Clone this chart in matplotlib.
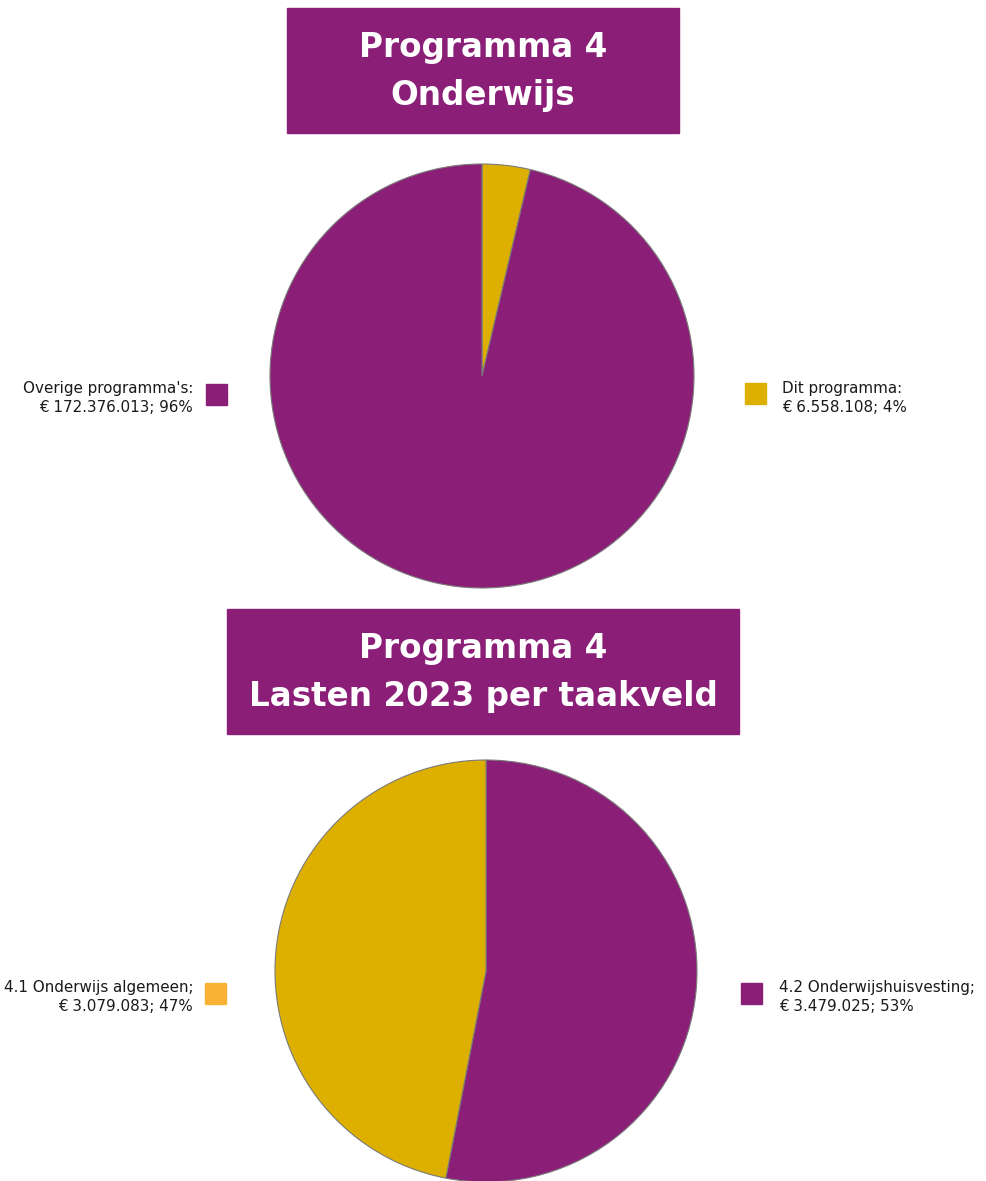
import matplotlib.pyplot as plt
from matplotlib.patches import Rectangle

# ============================================
# DATA
# ============================================
TITLE_TOP = "Programma 4\nOnderwijs"
LABELS_TOP = ["Dit programma", "Overige programma's"]
VALUES_TOP = [6558108, 172376013]
PCT_TOP = [4, 96]

TITLE_BOTTOM = "Programma 4\nLasten 2023 per taakveld"
LABELS_BOTTOM = ["4.2 Onderwijshuisvesting", "4.1 Onderwijs algemeen"]
VALUES_BOTTOM = [3479025, 3079083]
PCT_BOTTOM = [53, 47]

PURPLE = "#8B1F77"
GOLD = "#DDB000"
ORANGE = "#F9B233"

W, H = 986, 1181


def fx(px):
    return px / W


def fy(py):
    return 1 - py / H


def euro(v):
    return "€ " + f"{v:,}".replace(",", ".")


def title_box(fig, x0, x1, y0, y1, text):
    fig.patches.append(Rectangle((fx(x0), fy(y1)), fx(x1 - x0), (y1 - y0) / H,
                                 transform=fig.transFigure, color=PURPLE, zorder=0))
    fig.text(fx((x0 + x1) / 2), fy((y0 + y1) / 2 + 1), text, ha="center", va="center",
             color="white", fontsize=23.5, fontweight="bold", family="DejaVu Sans",
             linespacing=1.6)


def pie_axes(fig, cx, cy, r, values, colors):
    ax = fig.add_axes([fx(cx - r), fy(cy + r), 2 * r / W, 2 * r / H])
    ax.pie(values, colors=colors, startangle=90, counterclock=False, radius=1,
           wedgeprops=dict(edgecolor="#7a7a7a", linewidth=0.8))
    ax.set_xlim(-1, 1)
    ax.set_ylim(-1, 1)
    ax.set_aspect("auto")
    ax.axis("off")
    return ax


def legend_item(fig, sq_x, sq_y, color, text, text_x, text_y, ha):
    fig.patches.append(Rectangle((fx(sq_x), fy(sq_y + 21)), 21 / W, 21 / H,
                                 transform=fig.transFigure, color=color))
    fig.text(fx(text_x), fy(text_y), text, ha=ha, va="center", fontsize=10.9,
             family="DejaVu Sans", color="#1a1a1a", multialignment=ha,
             linespacing=1.28)


fig = plt.figure(figsize=(W / 100, H / 100), dpi=100)

# top chart
title_box(fig, 287, 679, 8, 133, TITLE_TOP)
pie_axes(fig, 482, 376, 212, VALUES_TOP, [GOLD, PURPLE])
legend_item(fig, 206, 384, PURPLE,
            f"{LABELS_TOP[1]}:\n{euro(VALUES_TOP[1])}; {PCT_TOP[1]}%", 193, 398, "right")
legend_item(fig, 745, 383, GOLD,
            f"{LABELS_TOP[0]}:\n{euro(VALUES_TOP[0])}; {PCT_TOP[0]}%", 782, 398, "left")

# bottom chart
title_box(fig, 227, 739, 609, 734, TITLE_BOTTOM)
pie_axes(fig, 486, 971, 211, VALUES_BOTTOM, [PURPLE, GOLD])
legend_item(fig, 205, 983, ORANGE,
            f"{LABELS_BOTTOM[1]};\n{euro(VALUES_BOTTOM[1])}; {PCT_BOTTOM[1]}%", 193, 997, "right")
legend_item(fig, 741, 983, PURPLE,
            f"{LABELS_BOTTOM[0]};\n{euro(VALUES_BOTTOM[0])}; {PCT_BOTTOM[0]}%", 779, 997, "left")

fig.savefig("out.png", dpi=100)
